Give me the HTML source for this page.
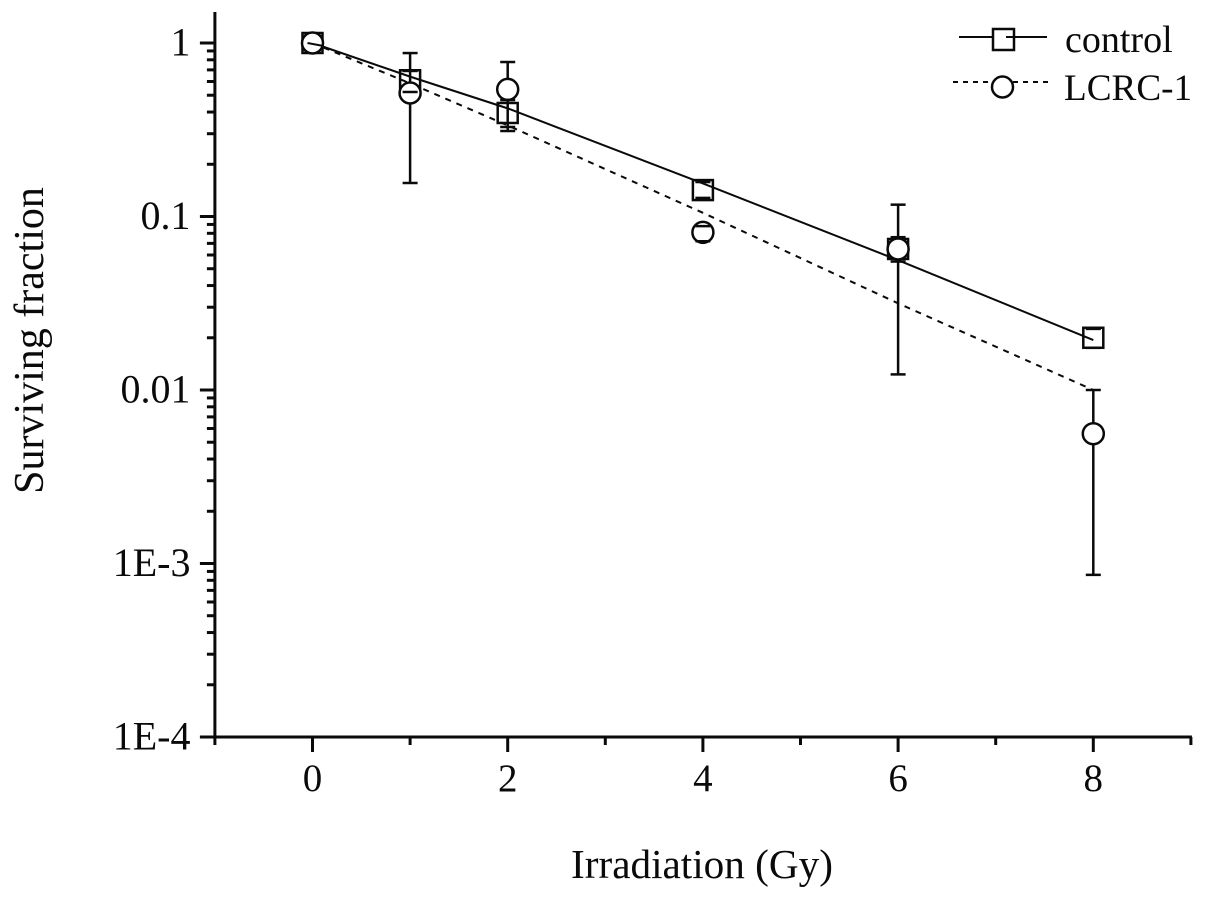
<!DOCTYPE html>
<html>
<head>
<meta charset="utf-8">
<title>Surviving fraction chart</title>
<style>
html,body{margin:0;padding:0;background:#fff;}
svg{display:block;}
text{font-family:"Liberation Serif",serif;fill:#0a0a0a;}
</style>
</head>
<body>
<svg id="chart" xmlns="http://www.w3.org/2000/svg" width="1205" height="898" viewBox="0 0 1205 898"></svg>
<script>
const doses = [0, 1, 2, 4, 6, 8];
const controlMean = [1, 0.61, 0.395, 0.142, 0.065, 0.020];
const controlHigh = [1, 0.69, 0.469, 0.158, 0.076, 0.0225];
const controlLow = [1, 0.522, 0.328, 0.128, 0.055, 0.0175];
const lcrcMean = [1, 0.515, 0.54, 0.081, 0.065, 0.0056];
const lcrcHigh = [1, 0.875, 0.777, 0.088, 0.117, 0.0100];
const lcrcLow = [1, 0.156, 0.311, 0.072, 0.0123, 0.00086];
const controlFit = [1, 0.64, 0.42, 0.155, 0.0560, 0.0194];
const lcrcFit = [1, 0.585, 0.335, 0.105, 0.0316, 0.0100];
const xTickValues = [0, 2, 4, 6, 8];
const xTickLabels = ['0', '2', '4', '6', '8'];
const xMinorValues = [-1, 1, 3, 5, 7, 9];
const yTickValues = [1, 0.1, 0.01, 0.001, 0.0001];
const yTickLabels = ['1', '0.1', '0.01', '1E-3', '1E-4'];
const seriesNames = ['control', 'LCRC-1'];

const svg = document.getElementById('chart');
const NS = 'http://www.w3.org/2000/svg';
const xAt = v => 312.5 + 97.6 * v;
const yAt = v => 43 - 173.5 * Math.log10(v);
const AX_X = xAt(-1), AX_Y = yAt(0.0001), AX_R = xAt(9), AX_T = 12;
const SQUARE_HALF = 10;

function mk(tag, attrs, parent) {
  const el = document.createElementNS(NS, tag);
  for (const k in attrs) el.setAttribute(k, attrs[k]);
  (parent || svg).appendChild(el);
  return el;
}
function group(name) {
  const g = mk('g', {});
  
  
  return g;
}
function seg(p, x1, y1, x2, y2, w) {
  return mk('line', {x1, y1, x2, y2, stroke: '#0a0a0a', 'stroke-width': w}, p);
}
function label(p, str, x, y, size, anchor) {
  const t = mk('text', {x, y, 'font-size': size, 'text-anchor': anchor}, p);
  t.textContent = str;
  return t;
}

/* axes */
const axes = group('axes');
const yLine = seg(axes, AX_X, AX_T, AX_X, AX_Y + 1.5, 3);


const xLine = seg(axes, AX_X - 1.5, AX_Y, AX_R + 1, AX_Y, 3);



/* y ticks */
const yTicks = group('y-axis-ticks');
yTickValues.forEach((v, i) => {
  seg(yTicks, AX_X - 15, yAt(v), AX_X, yAt(v), 3);
  const t = label(yTicks, yTickLabels[i], 190.5, yAt(v) + 12.5, 40, 'end');
  
  
  if (i < yTickValues.length - 1) {
    for (let m = 2; m <= 9; m++) {
      seg(yTicks, AX_X - 8, yAt(yTickValues[i + 1] * m), AX_X, yAt(yTickValues[i + 1] * m), 3);
    }
  }
});

/* x ticks */
const xTicks = group('x-axis-ticks');
xTickValues.forEach((v, i) => {
  seg(xTicks, xAt(v), AX_Y, xAt(v), AX_Y + 15, 3);
  const t = label(xTicks, xTickLabels[i], xAt(v), 791, 39, 'middle');
  
  
});
xMinorValues.forEach(v => seg(xTicks, xAt(v), AX_Y, xAt(v), AX_Y + 8, 3));

/* titles */
const xTitle = label(svg, 'Irradiation (Gy)', 702, 878, 41.2, 'middle');


const yTitle = label(svg, 'Surviving fraction', 0, 0, 42, 'middle');
yTitle.setAttribute('transform', 'translate(43,340.5) rotate(-90)');



function polyPts(vals) {
  return doses.map((d, i) => xAt(d) + ',' + yAt(vals[i])).join(' ');
}

/* control series: whiskers are only visible outside the square marker */
const gControl = group('series-control');
const ctrlLine = mk('polyline', {points: polyPts(controlFit), fill: 'none', stroke: '#0a0a0a', 'stroke-width': 2}, gControl);


doses.forEach((d, i) => {
  const cy = yAt(controlMean[i]);
  const top = yAt(controlHigh[i]), bottom = yAt(controlLow[i]);
  if (top < cy - SQUARE_HALF) seg(gControl, xAt(d), top, xAt(d), cy - SQUARE_HALF, 2.5);
  if (bottom > cy + SQUARE_HALF) seg(gControl, xAt(d), cy + SQUARE_HALF, xAt(d), bottom, 2.5);
  const s = mk('rect', {x: xAt(d) - SQUARE_HALF, y: cy - SQUARE_HALF, width: SQUARE_HALF * 2, height: SQUARE_HALF * 2, fill: 'none', stroke: '#0a0a0a', 'stroke-width': 2.5}, gControl);
  
  
});

/* LCRC-1 series */
const gLcrc = group('series-lcrc-1');
const lcrcLine = mk('polyline', {points: polyPts(lcrcFit), fill: 'none', stroke: '#0a0a0a', 'stroke-width': 2, 'stroke-dasharray': '6 6'}, gLcrc);


doses.forEach((d, i) => {
  if (i > 0) seg(gLcrc, xAt(d), yAt(lcrcHigh[i]), xAt(d), yAt(lcrcLow[i]), 2.5);
  const c = mk('circle', {cx: xAt(d), cy: yAt(lcrcMean[i]), r: 10.5, fill: '#fff', stroke: '#0a0a0a', 'stroke-width': 2.5}, gLcrc);
  
  
});

/* error-bar caps, drawn over the markers */
const gCaps = group('error-bar-caps');
doses.forEach((d, i) => {
  if (i === 0) return;
  [controlHigh[i], controlLow[i], lcrcHigh[i], lcrcLow[i]].forEach(v => {
    seg(gCaps, xAt(d) - 7.5, yAt(v), xAt(d) + 7.5, yAt(v), 2.5);
  });
});
/* short stub of the fit line visible inside the first marker */
seg(gCaps, xAt(doses[0]) - 5, yAt(controlFit[0]), xAt(doses[0]) + 11, yAt(controlFit[0]) + 3, 2);

/* legend */
const legend = group('legend');
seg(legend, 959, 37, 1047, 37, 2);
mk('rect', {x: 993, y: 29, width: 21, height: 21, fill: '#fff', stroke: '#0a0a0a', 'stroke-width': 2.5}, legend);
seg(legend, 1006, 37, 1014, 37, 2);
const lg1 = label(legend, seriesNames[0], 1065, 52, 38, 'start');


mk('line', {x1: 953, y1: 82, x2: 1052, y2: 82, stroke: '#0a0a0a', 'stroke-width': 2, 'stroke-dasharray': '5 5'}, legend);
mk('circle', {cx: 1002.5, cy: 87, r: 10.5, fill: '#fff', stroke: '#0a0a0a', 'stroke-width': 2.5}, legend);
const lg2 = label(legend, seriesNames[1], 1064, 100, 37.2, 'start');


</script>
</body>
</html>
